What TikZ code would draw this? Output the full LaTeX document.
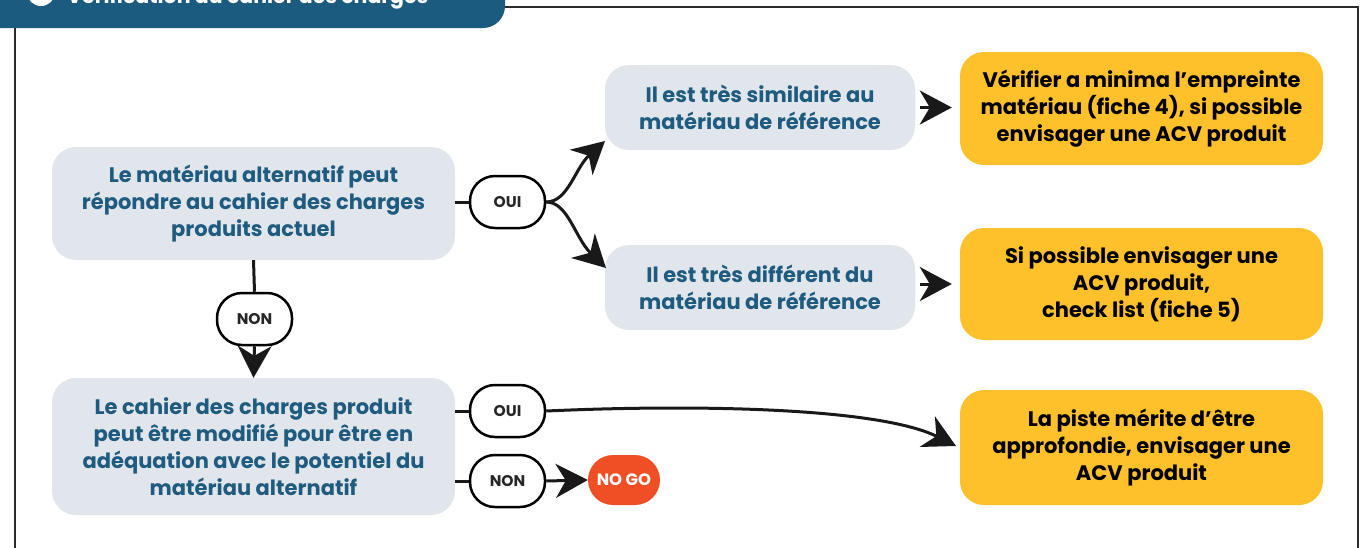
\documentclass[tikz,border=0pt]{standalone}
\usepackage{fontspec}
\setmainfont{Poppins}
\usetikzlibrary{arrows.meta}
\definecolor{hdrblue}{HTML}{1C5B80}
\definecolor{txtblue}{HTML}{1E5B7E}
\definecolor{boxgray}{HTML}{E1E5EC}
\definecolor{boxyellow}{HTML}{FEC02B}
\definecolor{nogored}{HTML}{F04E25}
\definecolor{framegray}{HTML}{2B2B2B}
\tikzset{
  graybox/.style={fill=boxgray, rounded corners=24pt, align=center, text=txtblue, font=\fontsize{21}{27}\selectfont\bfseries, inner sep=0pt},
  yellowbox/.style={fill=boxyellow, rounded corners=24pt, align=center, text=black, font=\fontsize{21}{27}\selectfont\bfseries, inner sep=0pt},
  pill/.style={draw=black, line width=2.5pt, fill=white, rounded corners=25pt, minimum width=75pt, minimum height=52pt, inner sep=0pt, font=\fontsize{15.5}{18}\selectfont\bfseries, text=black!85},
  nogo/.style={fill=nogored, rounded corners=25pt, minimum width=72pt, minimum height=50pt, inner sep=0pt, font=\fontsize{16.5}{18}\selectfont\bfseries, text=white},
  conn/.style={draw=black!90, line width=3pt},
  arr/.style={conn, -{Stealth[length=32pt, width=34pt, inset=10pt]}},
}
\begin{document}
\begin{tikzpicture}[x=1pt, y=-1pt]
\useasboundingbox (0,0) rectangle (1369,547);
\clip (0,0) rectangle (1369,547);
% frame
\draw[framegray, line width=2pt] (15,560) -- (15,20) (490,7) -- (1358,7) -- (1358,560);
% header
\fill[hdrblue, rounded corners=22pt] (-30,-40) rectangle (505,28);
\fill[white] (41,-8) circle (14pt);
\node[anchor=base west, text=white, font=\fontsize{20.5}{26}\selectfont\bfseries, inner sep=0pt] (title) at (67,3) {Vérification du cahier des charges};
% boxes
\node[graybox, minimum width=403pt, minimum height=113pt] (A) at (253.5,203.5) {Le matériau alternatif peut\\répondre au cahier des charges\\produits actuel};
\node[graybox, minimum width=310pt, minimum height=85pt] (B) at (760,107.5) {Il est très similaire au\\matériau de référence};
\node[graybox, minimum width=310pt, minimum height=85pt] (C) at (760,287.5) {Il est très différent du\\matériau de référence};
\node[graybox, minimum width=403pt, minimum height=137pt] (D) at (253.5,446.5) {Le cahier des charges produit\\peut être modifié pour être en\\adéquation avec le potentiel du\\matériau alternatif};
\node[yellowbox, minimum width=363pt, minimum height=113pt] (E) at (1141.5,108.5) {Vérifier a minima l’empreinte\\matériau (fiche 4), si possible\\envisager une ACV produit};
\node[yellowbox, minimum width=363pt, minimum height=112pt] (F) at (1141.5,284) {Si possible envisager une\\ACV produit,\\check list (fiche 5)};
\node[yellowbox, minimum width=363pt, minimum height=115pt] (G) at (1141.5,447.5) {La piste mérite d’être\\approfondie, envisager une\\ACV produit};
% pills
\node[pill] (oui1) at (507.5,202) {OUI};
\node[pill] (non1) at (254.5,319) {NON};
\node[pill] (oui2) at (507.5,411) {OUI};
\node[pill] (non2) at (507.5,481) {NON};
\node[nogo] (ng) at (624,480) {NO GO};
% coordinates
\coordinate (btip) at (605,141);
\coordinate (ctip) at (606,268);
\coordinate (gtip) at (956,446);
% connectors
\draw[conn] (A.east |- oui1) -- (oui1.west);
\draw[arr] (oui1.east) .. controls (568,202) and (575,168) .. (btip);
\draw[arr] (oui1.east) .. controls (568,202) and (575,238) .. (ctip);
\draw[conn] (A.south) -- (non1.north);
\draw[arr] (non1.south) -- (D.north);
\draw[conn] (D.east |- oui2) -- (oui2.west);
\draw[conn] (D.east |- non2) -- (non2.west);
\draw[arr] (oui2.east) .. controls (700,404) and (880,408) .. (gtip);
\draw[arr] (non2.east) -- (ng.west);
\draw[arr, shorten <=5pt, shorten >=8pt] (B.east) -- (E.west |- B.east);
\draw[arr, shorten <=5pt, shorten >=8pt] (C.east |- F.west) -- (F.west);
\end{tikzpicture}
\end{document}
